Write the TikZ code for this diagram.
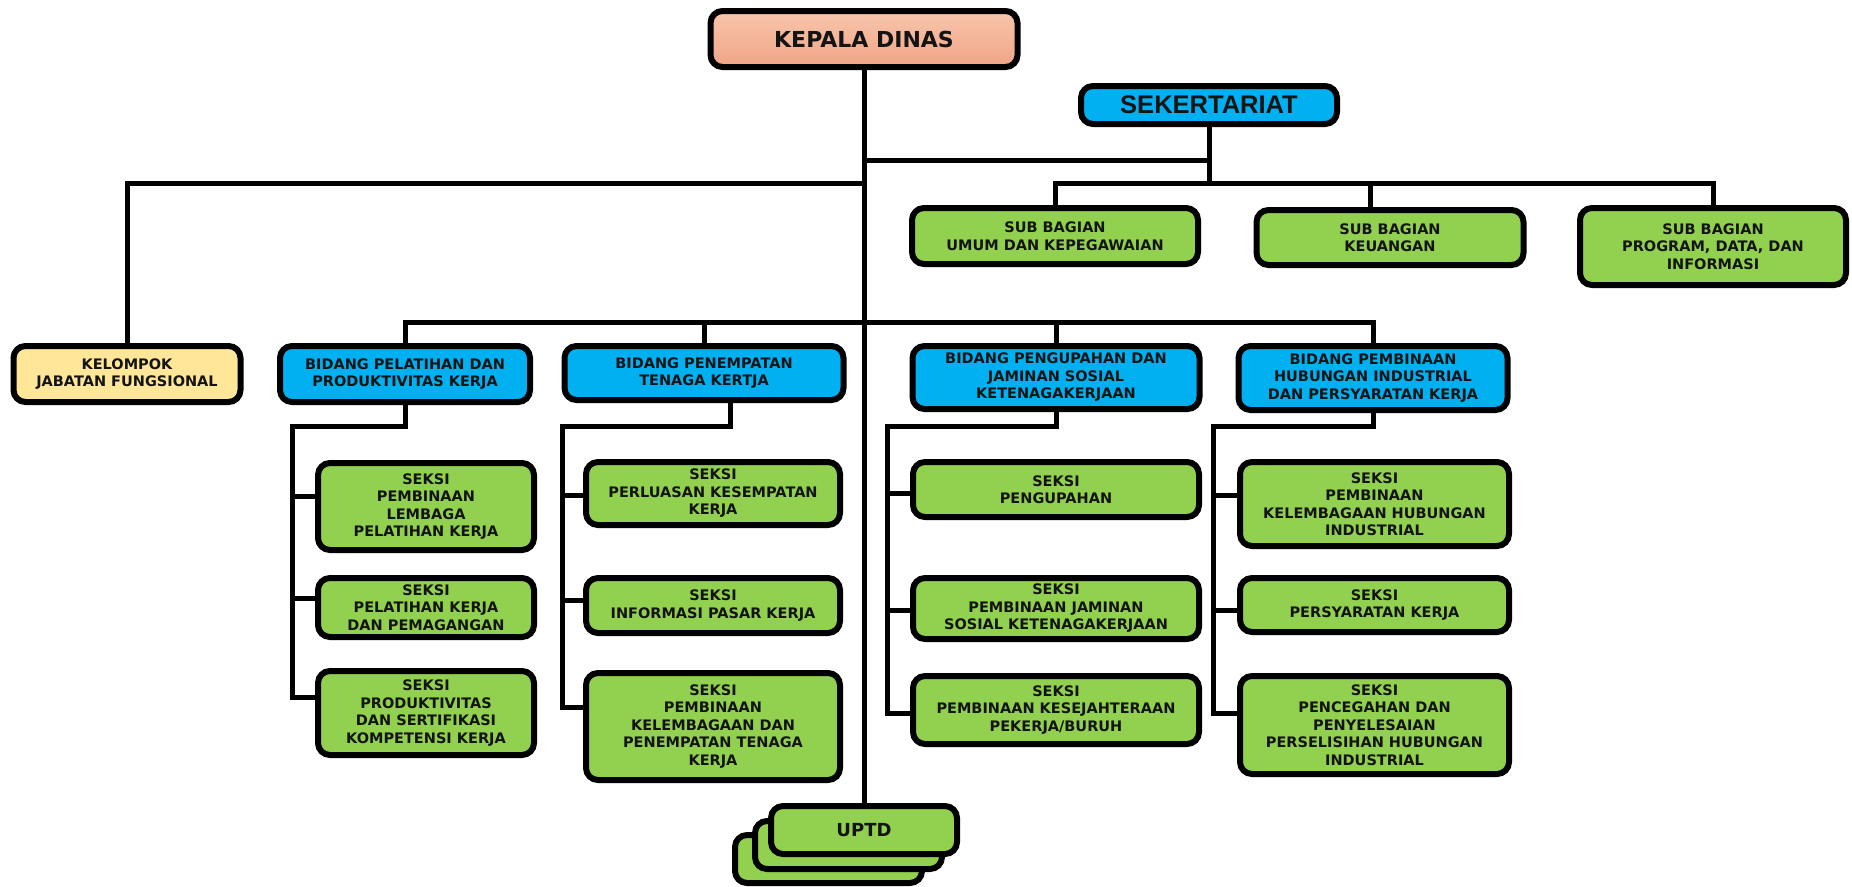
\documentclass[tikz,border=0pt]{standalone}
\usepackage{fontspec}
\setmainfont{DejaVu Sans}
\newfontfamily\arialf{Liberation Sans}
\usetikzlibrary{calc}
\definecolor{gr}{HTML}{92D050}
\definecolor{bl}{HTML}{00B0F0}
\definecolor{yl}{HTML}{FFE699}
\definecolor{pkt}{HTML}{F8C6AC}
\definecolor{pkb}{HTML}{F0A486}
\definecolor{txt}{HTML}{141414}
\tikzset{
  box/.style={draw=black, line width=6pt, rounded corners=12pt, align=center, inner sep=0pt,
    text=txt, font=\fontsize{14.5}{17.5}\selectfont\bfseries},
  gbox/.style={box, fill=gr},
  bbox/.style={box, fill=bl},
  ybox/.style={box, fill=yl},
  pbox/.style={box, top color=pkt, bottom color=pkb},
  sz/.style 2 args={minimum width=#1pt, minimum height=#2pt},
  conn/.style={draw=black, line width=5pt},
}
\begin{document}
\begin{tikzpicture}[x=1pt,y=-1pt]
\useasboundingbox (0,0) rectangle (1852,886);
\clip (0,0) rectangle (1852,886);
\fill[white] (0,0) rectangle (1852,886);

% top level
\node[pbox, sz={307}{56}, font=\fontsize{22}{26}\selectfont\bfseries] (kepala) at (864,39) {KEPALA DINAS};
\node[bbox, sz={256}{38}, font=\fontsize{25.5}{28}\selectfont\arialf\bfseries] (sekre) at (1209,105) {SEKERTARIAT};

% sub bagian
\node[gbox, sz={286}{56}] (umum) at (1055,236) {SUB BAGIAN\\UMUM DAN KEPEGAWAIAN};
\node[gbox, sz={267}{55}] (keu) at (1390,237.5) {SUB BAGIAN\\KEUANGAN};
\node[gbox, sz={266}{77}] (prog) at (1713,246.5) {SUB BAGIAN\\PROGRAM, DATA, DAN\\INFORMASI};

% kelompok & bidang
\node[ybox, sz={227}{56}] (kjf) at (127,374) {KELOMPOK\\JABATAN FUNGSIONAL};
\node[bbox, sz={250}{56}] (b1) at (405,374) {BIDANG PELATIHAN DAN\\PRODUKTIVITAS KERJA};
\node[bbox, sz={279}{54}] (b2) at (704,373) {BIDANG PENEMPATAN\\TENAGA KERTJA};
\node[bbox, sz={287}{63}] (b3) at (1056,377.5) {BIDANG PENGUPAHAN DAN\\JAMINAN SOSIAL\\KETENAGAKERJAAN};
\node[bbox, sz={269}{64}] (b4) at (1373,378) {BIDANG PEMBINAAN\\HUBUNGAN INDUSTRIAL\\DAN PERSYARATAN KERJA};

% seksi column 1
\node[gbox, sz={216}{87}] (s11) at (426,506.5) {SEKSI\\PEMBINAAN\\LEMBAGA\\PELATIHAN KERJA};
\node[gbox, sz={216}{59}] (s12) at (426,607.5) {SEKSI\\PELATIHAN KERJA\\DAN PEMAGANGAN};
\node[gbox, sz={216}{84}] (s13) at (426,713) {SEKSI\\PRODUKTIVITAS\\DAN SERTIFIKASI\\KOMPETENSI KERJA};
% column 2
\node[gbox, sz={254}{63}] (s21) at (713,493.5) {SEKSI\\PERLUASAN KESEMPATAN\\KERJA};
\node[gbox, sz={254}{55}] (s22) at (713,605.5) {SEKSI\\INFORMASI PASAR KERJA};
\node[gbox, sz={254}{107}] (s23) at (713,726.5) {SEKSI\\PEMBINAAN\\KELEMBAGAAN DAN\\PENEMPATAN TENAGA\\KERJA};
% column 3
\node[gbox, sz={286}{55}] (s31) at (1056,489.5) {SEKSI\\PENGUPAHAN};
\node[gbox, sz={286}{61}] (s32) at (1056,608.5) {SEKSI\\PEMBINAAN JAMINAN\\SOSIAL KETENAGAKERJAAN};
\node[gbox, sz={286}{68}] (s33) at (1056,710) {SEKSI\\PEMBINAAN KESEJAHTERAAN\\PEKERJA/BURUH};
% column 4
\node[gbox, sz={269}{84}] (s41) at (1374.5,504) {SEKSI\\PEMBINAAN\\KELEMBAGAAN HUBUNGAN\\INDUSTRIAL};
\node[gbox, sz={269}{54}] (s42) at (1374.5,605) {SEKSI\\PERSYARATAN KERJA};
\node[gbox, sz={269}{98}] (s43) at (1374.5,725) {SEKSI\\PENCEGAHAN DAN\\PENYELESAIAN\\PERSELISIHAN HUBUNGAN\\INDUSTRIAL};

% UPTD stack
\node[gbox, sz={187}{48}] (uptd3) at (828.5,859) {};
\node[gbox, sz={187}{48}] (uptd2) at (848.5,845) {};
\node[gbox, sz={186}{48}, font=\fontsize{18}{20}\selectfont\bfseries] (uptd) at (864,830) {UPTD};

% junction coordinates
\coordinate (j1) at (864,160);
\coordinate (j2) at (864,183);
\coordinate (bus2) at (864,322);
\coordinate (kd) at (1370,183);

% main connectors
\draw[conn] (kepala.south) -- (uptd.north);
\draw[conn] (j1) -| (sekre.south);
\draw[conn] (sekre.south) -- (sekre.south |- j2);
\draw[conn] (umum.north) |- (j2 -| prog.north) -- (prog.north);
\draw[conn] (kd) -- (kd |- keu.north);
\draw[conn] (j2) -| (kjf.north);
\draw[conn] (b1.north) |- (bus2 -| b4.north) -- (b4.north);
\draw[conn] (b2.north) -- (b2.north |- bus2);
\draw[conn] (b3.north) -- (b3.north |- bus2);

% column 1
\coordinate (sp1) at (292,426);
\coordinate (t11) at ([yshift=10.5pt]s11.west);
\coordinate (t12) at ([yshift=9.5pt]s12.west);
\coordinate (t13) at ([yshift=16pt]s13.west);
\draw[conn] (b1.south) |- (sp1) |- (t13);
\draw[conn] (t11) -- (sp1 |- t11);
\draw[conn] (t12) -- (sp1 |- t12);

% column 2
\coordinate (b2d) at ([xshift=26pt]b2.south);
\coordinate (sp2) at (562,426);
\coordinate (t21) at ([yshift=-1.5pt]s21.west);
\coordinate (t22) at ([yshift=5.5pt]s22.west);
\coordinate (t23) at ([yshift=19.5pt]s23.west);
\draw[conn] (b2d) |- (sp2) |- (t23);
\draw[conn] (t21) -- (sp2 |- t21);
\draw[conn] (t22) -- (sp2 |- t22);

% column 3
\coordinate (sp3) at (887,426);
\coordinate (t31) at ([yshift=-3.5pt]s31.west);
\coordinate (t32) at ([yshift=-1.5pt]s32.west);
\coordinate (t33) at ([yshift=-3pt]s33.west);
\draw[conn] (b3.south) |- (sp3) |- (t33);
\draw[conn] (t31) -- (sp3 |- t31);
\draw[conn] (t32) -- (sp3 |- t32);

% column 4
\coordinate (sp4) at (1213,426);
\coordinate (t41) at ([yshift=9pt]s41.west);
\coordinate (t42) at ([yshift=-5pt]s42.west);
\coordinate (t43) at ([yshift=12pt]s43.west);
\draw[conn] (b4.south) |- (sp4) |- (t43);
\draw[conn] (t41) -- (sp4 |- t41);
\draw[conn] (t42) -- (sp4 |- t42);
\end{tikzpicture}
\end{document}
